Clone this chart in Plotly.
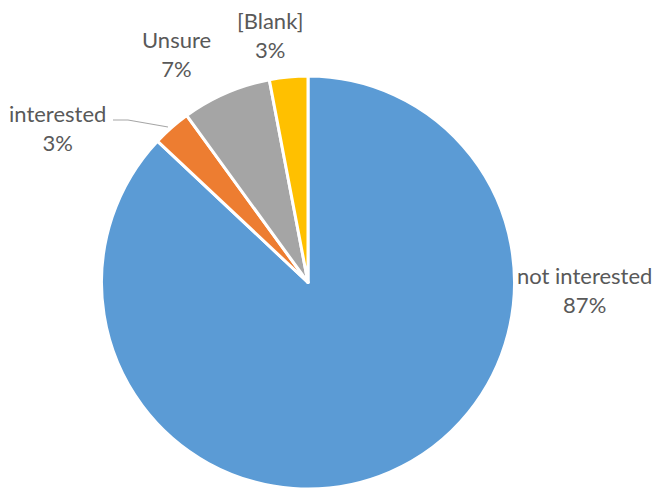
import plotly.graph_objects as go

# Survey responses
categories = ["not interested", "interested", "Unsure", "[Blank]"]
shares = [87, 3, 7, 3]
colors = ["#5B9BD5", "#ED7D31", "#A5A5A5", "#FFC000"]

W, H = 655, 489


def px(x):
    return x / W


def py(y):
    return 1 - y / H


fig = go.Figure(
    go.Pie(
        labels=categories,
        values=shares,
        sort=False,
        direction="clockwise",
        rotation=0,
        marker=dict(colors=colors, line=dict(color="white", width=3)),
        textinfo="none",
        hoverinfo="label+percent",
        domain=dict(x=[px(101), px(515)], y=[0, py(76)]),
        showlegend=False,
    )
)

# Data labels: category name and share, positioned around the pie
label_pos = {
    "not interested": (584, 290),
    "interested": (57, 128),
    "Unsure": (177, 54),
    "[Blank]": (270, 35),
}
for cat, val in zip(categories, shares):
    x, y = label_pos[cat]
    fig.add_annotation(
        x=px(x), y=py(y), xref="paper", yref="paper",
        text=f"{cat}<br>{val}%", showarrow=False,
        font=dict(family="Lato", size=22, color="#595959"),
        align="center", xanchor="center", yanchor="middle",
    )

# Leader line for the small "interested" slice
fig.add_shape(
    type="path", xref="paper", yref="paper",
    path=f"M {px(113)},{py(120)} L {px(128)},{py(120)} L {px(168)},{py(127)}",
    line=dict(color="#A6A6A6", width=1.2),
)

fig.update_layout(
    width=W, height=H,
    margin=dict(l=0, r=0, t=0, b=0),
    paper_bgcolor="white",
    plot_bgcolor="white",
)

fig.write_html("out.html")
